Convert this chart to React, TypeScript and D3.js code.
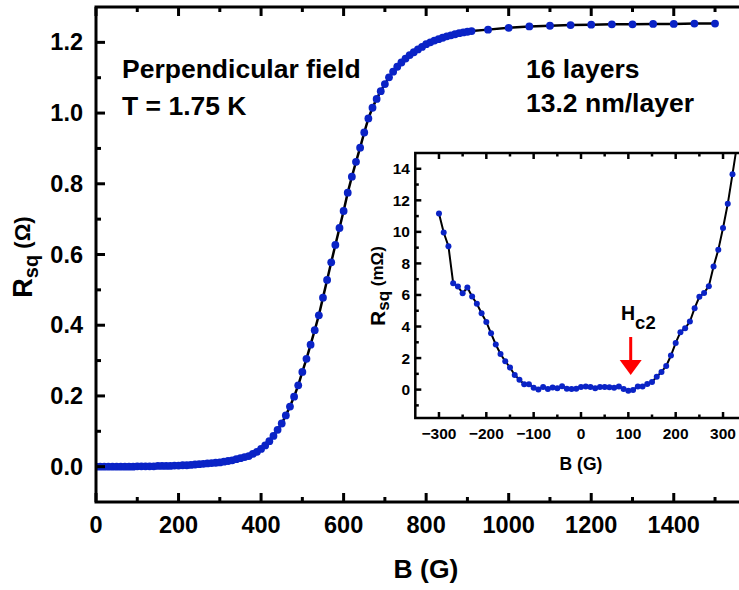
import React from "react";
import * as d3 from "d3";

// Main curve: sheet resistance vs perpendicular field (dense sweep)
const mainB: number[] = [
  0, 10, 20, 30, 40, 50, 60, 70, 80, 90, 100, 110, 120, 130, 140, 150, 160, 170, 180, 190,
  200, 210, 220, 230, 240, 250, 260, 270, 280, 290, 300, 310, 320, 330, 340, 350, 360, 370, 380, 390,
  400, 410, 420, 430, 440, 450, 460, 470, 480, 490, 500, 510, 520, 530, 540, 550, 560, 570, 580, 590,
  600, 610, 620, 630, 640, 650, 660, 670, 680, 690, 700, 710, 720, 730, 740, 750, 760, 770, 780, 790,
  800, 810, 820, 830, 840, 850, 860, 870, 880, 890, 900, 910,
  950, 1000, 1050, 1100, 1150, 1200, 1250, 1300, 1350, 1400, 1450, 1500,
];
const mainR: number[] = [
  0.0, 0.0, 0.0, 0.0, 0.0, 0.0, 0.0, 0.0, 0.0, 0.0, 0.001, 0.001, 0.001, 0.001, 0.001, 0.002, 0.002, 0.002, 0.002, 0.003,
  0.003, 0.004, 0.004, 0.005, 0.006, 0.007, 0.008, 0.009, 0.010, 0.011, 0.012, 0.014, 0.016, 0.018, 0.021, 0.024, 0.027, 0.030, 0.036, 0.042,
  0.050, 0.060, 0.072, 0.087, 0.104, 0.122, 0.145, 0.170, 0.198, 0.230, 0.268, 0.305, 0.345, 0.386, 0.428, 0.478, 0.528, 0.578, 0.627, 0.675,
  0.723, 0.775, 0.820, 0.862, 0.902, 0.945, 0.985, 1.015, 1.040, 1.062, 1.082, 1.101, 1.117, 1.131, 1.143, 1.154, 1.164, 1.172, 1.180, 1.187,
  1.195, 1.200, 1.205, 1.209, 1.213, 1.217, 1.220, 1.223, 1.226, 1.228, 1.230, 1.232,
  1.236, 1.241, 1.245, 1.247, 1.249, 1.250, 1.251, 1.251, 1.252, 1.252, 1.253, 1.253,
];

// Inset: low-field sweep, R in mOhm
const insetB: number[] = [
  -300, -290, -280, -270, -260, -250, -240, -230, -220, -210, -200, -190, -180, -170, -160, -150, -140, -130, -120, -110,
  -100, -90, -80, -70, -60, -50, -40, -30, -20, -10, 0, 10, 20, 30, 40, 50, 60, 70, 80, 90,
  100, 110, 120, 130, 140, 150, 160, 170, 180, 190, 200, 210, 220, 230, 240, 250, 260, 270, 280, 290,
  300, 310, 320, 330,
];
const insetR: number[] = [
  11.17, 9.96, 9.09, 6.75, 6.54, 6.11, 6.47, 5.9, 5.44, 4.84, 4.29, 3.57, 2.86, 2.26, 1.8, 1.4, 0.93, 0.63, 0.34, 0.34,
  0.11, 0.0, 0.17, 0.04, 0.13, 0.08, 0.21, 0.06, 0.04, 0.06, 0.17, 0.19, 0.17, 0.08, 0.17, 0.17, 0.15, 0.11, 0.19, 0.04,
  -0.08, -0.02, 0.19, 0.19, 0.36, 0.49, 0.82, 1.12, 1.5, 2.16, 2.96, 3.64, 3.89, 4.31, 5.16, 5.88, 6.13, 6.56, 7.8, 8.86,
  10.24, 11.78, 13.66, 15.6,
];

const mainXTicks: number[] = [0, 200, 400, 600, 800, 1000, 1200, 1400];
const mainYTicks: number[] = [0.0, 0.2, 0.4, 0.6, 0.8, 1.0, 1.2];
const insetXTicks: number[] = [-300, -200, -100, 0, 100, 200, 300];
const insetYTicks: number[] = [0, 2, 4, 6, 8, 10, 12, 14];

const BLUE = "#0a23c6";
const FONT = "Liberation Sans, Arial, Helvetica, sans-serif";

export default function App() {
  const W = 739, H = 590;
  // main scales
  const x = d3.scaleLinear().domain([0, 1600]).range([96, 756.3]);
  const y = d3.scaleLinear().domain([-0.1, 1.3]).range([502, 7]);
  // inset scales
  const ix = d3.scaleLinear().domain([-350, 350]).range([415.3, 746.7]);
  const iy = d3.scaleLinear().domain([-1.8, 15]).range([418, 153]);

  const mainPts = mainB.map((b, i) => [b, mainR[i]] as [number, number]);
  const insetPts = insetB.map((b, i) => [b, insetR[i]] as [number, number]);
  const mainLine = d3.line<[number, number]>().x(d => x(d[0])).y(d => y(d[1]));
  const insetLine = d3.line<[number, number]>().x(d => ix(d[0])).y(d => iy(d[1]));

  const [x0, x1] = x.range();
  const [y0, y1] = y.range();
  const [ix0, ix1] = ix.range();
  const [iy0, iy1] = iy.range();

  const mainXMinor = d3.range(100, 1600, 200);
  const mainYMinor = d3.range(-0.1, 1.35, 0.2).map(v => +v.toFixed(2)).filter(v => v > -0.1 && v < 1.3);
  const insetXMinor = d3.range(-350, 351, 100).filter(v => v > -350 && v < 350);
  const insetYMinor = d3.range(-1, 15, 2);

  const fmtMain = (v: number) => v.toFixed(1);
  const fmtInset = (v: number) => (v < 0 ? "\u2212" + Math.abs(v) : String(v));

  return (
    <svg width={W} height={H} style={{ position: "absolute", left: 0, top: 0, background: "#fff" }} fontFamily={FONT} fontWeight="bold">
      <defs>
        <clipPath id="mainClip"><rect x={x0} y={y1} width={x1 - x0} height={y0 - y1} /></clipPath>
        <clipPath id="insetClip"><rect x={ix0} y={iy1} width={ix1 - ix0} height={iy0 - iy1} /></clipPath>
      </defs>

      {/* ===== main plot ===== */}
      <g clipPath="url(#mainClip)">
        <path d={mainLine(mainPts) || ""} fill="none" stroke="#000" strokeWidth={2.5} />
        {mainPts.map((p, i) => (
          <circle key={i} cx={x(p[0])} cy={y(p[1])} r={3.9} fill={BLUE} />
        ))}
      </g>

      {/* main frame */}
      <rect x={x0} y={y1} width={x1 - x0} height={y0 - y1} fill="none" stroke="#000" strokeWidth={3} />
      {/* main ticks */}
      {mainXTicks.map(t => (
        <g key={"mx" + t}>
          <line x1={x(t)} x2={x(t)} y1={y0} y2={y0 - 9} stroke="#000" strokeWidth={3} />
          <line x1={x(t)} x2={x(t)} y1={y1} y2={y1 + 9} stroke="#000" strokeWidth={3} />
          <text x={x(t)} y={533} textAnchor="middle" fontSize={23.5}>{t}</text>
        </g>
      ))}
      {mainXMinor.map(t => (
        <g key={"mxm" + t}>
          <line x1={x(t)} x2={x(t)} y1={y0} y2={y0 - 5} stroke="#000" strokeWidth={3} />
          <line x1={x(t)} x2={x(t)} y1={y1} y2={y1 + 5} stroke="#000" strokeWidth={3} />
        </g>
      ))}
      {mainYTicks.map(t => (
        <g key={"my" + t}>
          <line x1={x0} x2={x0 + 9} y1={y(t)} y2={y(t)} stroke="#000" strokeWidth={3} />
          <text x={83} y={y(t) + 8} textAnchor="end" fontSize={23.5}>{fmtMain(t)}</text>
        </g>
      ))}
      {mainYMinor.map(t => (
        <line key={"mym" + t} x1={x0} x2={x0 + 5} y1={y(t)} y2={y(t)} stroke="#000" strokeWidth={3} />
      ))}

      {/* main axis titles */}
      <text x={426} y={578} textAnchor="middle" fontSize={26.5}>B (G)</text>
      <text transform="translate(32,257) rotate(-90)" textAnchor="middle" fontSize={27}>
        R<tspan fontSize={20} dy={6}>sq</tspan><tspan fontSize={22} dy={-8}> (Ω)</tspan>
      </text>

      {/* annotations */}
      <text x={122} y={78} fontSize={26.5}>Perpendicular field</text>
      <text x={122} y={115} fontSize={26.5}>T = 1.75 K</text>
      <text x={526} y={78} fontSize={26.5}>16 layers</text>
      <text x={526} y={112} fontSize={26.5}>13.2 nm/layer</text>

      {/* ===== inset ===== */}
      <rect x={ix0} y={iy1} width={ix1 - ix0} height={iy0 - iy1} fill="#fff" />
      <g clipPath="url(#insetClip)">
        <path d={insetLine(insetPts) || ""} fill="none" stroke="#000" strokeWidth={2} />
        {insetPts.map((p, i) => (
          <circle key={i} cx={ix(p[0])} cy={iy(p[1])} r={3} fill={BLUE} />
        ))}
      </g>
      <rect x={ix0} y={iy1} width={ix1 - ix0} height={iy0 - iy1} fill="none" stroke="#000" strokeWidth={2.5} />
      {insetXTicks.map(t => (
        <g key={"ix" + t}>
          <line x1={ix(t)} x2={ix(t)} y1={iy0} y2={iy0 - 6} stroke="#000" strokeWidth={2.5} />
          <line x1={ix(t)} x2={ix(t)} y1={iy1} y2={iy1 + 6} stroke="#000" strokeWidth={2.5} />
          <text x={ix(t)} y={439} textAnchor="middle" fontSize={15.5}>{fmtInset(t)}</text>
        </g>
      ))}
      {insetXMinor.map(t => (
        <g key={"ixm" + t}>
          <line x1={ix(t)} x2={ix(t)} y1={iy0} y2={iy0 - 3.5} stroke="#000" strokeWidth={2.5} />
          <line x1={ix(t)} x2={ix(t)} y1={iy1} y2={iy1 + 3.5} stroke="#000" strokeWidth={2.5} />
        </g>
      ))}
      {insetYTicks.map(t => (
        <g key={"iy" + t}>
          <line x1={ix0} x2={ix0 + 6} y1={iy(t)} y2={iy(t)} stroke="#000" strokeWidth={2.5} />
          <text x={410} y={iy(t) + 5.5} textAnchor="end" fontSize={15.5}>{t}</text>
        </g>
      ))}
      {insetYMinor.map(t => (
        <line key={"iym" + t} x1={ix0} x2={ix0 + 3.5} y1={iy(t)} y2={iy(t)} stroke="#000" strokeWidth={2.5} />
      ))}
      <text x={581} y={470} textAnchor="middle" fontSize={17.5}>B (G)</text>
      <text transform="translate(385,286) rotate(-90)" textAnchor="middle" fontSize={21}>
        R<tspan fontSize={17} dy={4}>sq</tspan><tspan fontSize={17} dy={-6}> (mΩ)</tspan>
      </text>

      {/* Hc2 marker */}
      <text x={621} y={320} fontSize={19.5}>
        H<tspan fontSize={18.5} dy={9}>c2</tspan>
      </text>
      <line x1={630.7} x2={630.7} y1={337} y2={362} stroke="#ff0000" strokeWidth={3} />
      <path d="M619.7,360 L641.7,360 L630.7,375 Z" fill="#ff0000" />
    </svg>
  );
}
